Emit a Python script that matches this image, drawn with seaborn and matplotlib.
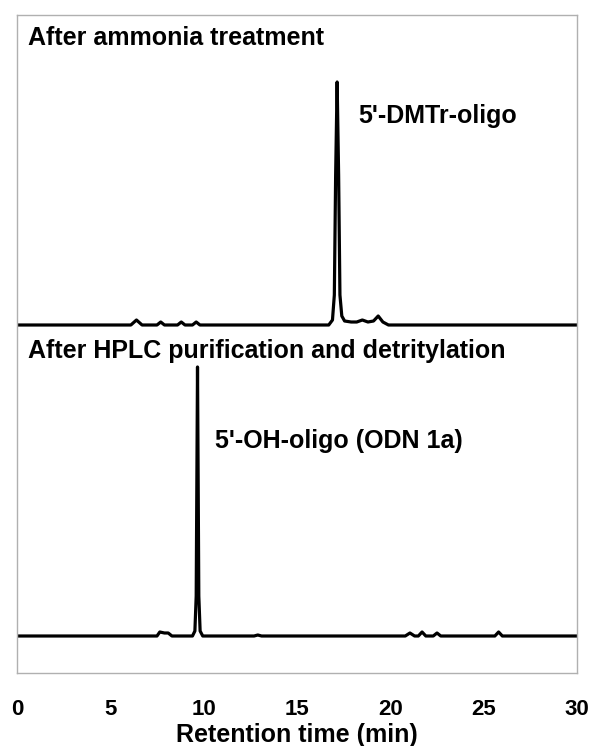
import numpy as np
import pandas as pd
import matplotlib
matplotlib.use("Agg")
import matplotlib.pyplot as plt
import seaborn as sns

# trace points (time in min, signal in arbitrary units)
time_ammonia = [0, 6.1, 6.4, 6.7, 7.5, 7.7, 7.9, 8.6, 8.8, 9.0, 9.4, 9.6, 9.8,
                16.7, 16.9, 17.0, 17.07, 17.15, 17.23, 17.3, 17.4, 17.55, 17.9,
                18.2, 18.5, 18.8, 19.1, 19.35, 19.6, 19.9, 30]
signal_ammonia = [0, 0, 5, 0, 0, 3, 0, 0, 3, 0, 0, 3, 0,
                  0, 5, 30, 150, 243, 150, 30, 9, 4, 3,
                  3, 5, 3, 4, 9, 3, 0, 0]

time_hplc = [0, 7.5, 7.65, 7.9, 8.1, 8.3, 9.4, 9.53, 9.6, 9.67, 9.74, 9.81, 9.95,
             12.7, 12.9, 13.1, 20.8, 21.05, 21.3, 21.5, 21.7, 21.9, 22.3, 22.5,
             22.7, 25.6, 25.8, 26.0, 30]
signal_hplc = [0, 0, 4, 3, 3, 0, 0, 5, 40, 269, 40, 5, 0,
               0, 1, 0, 0, 3, 0, 0, 4, 0, 0, 3,
               0, 0, 4, 0, 0]

panel_titles = ["After ammonia treatment", "After HPLC purification and detritylation"]
peak_labels = ["5'-DMTr-oligo", "5'-OH-oligo (ODN 1a)"]
x_ticks = [0, 5, 10, 15, 20, 25, 30]

# vertical offsets used to stack the two runs in one axes
OFFSET_TOP = 348
OFFSET_BOTTOM = 37

df = pd.concat([
    pd.DataFrame({"time": time_ammonia, "signal": np.array(signal_ammonia) + OFFSET_TOP, "run": "a"}),
    pd.DataFrame({"time": time_hplc, "signal": np.array(signal_hplc) + OFFSET_BOTTOM, "run": "b"}),
])

sns.set_theme(style="white")
plt.rcParams["font.family"] = ["Liberation Sans", "DejaVu Sans"]

fig = plt.figure(figsize=(5.92, 7.46), dpi=100)
ax = fig.add_axes([17 / 592, 73 / 746, 560 / 592, 658 / 746])

sns.lineplot(data=df, x="time", y="signal", units="run", estimator=None,
             color="black", linewidth=2.3, ax=ax, sort=False)

ax.set_xlim(0, 30)
ax.set_ylim(0, 658)
ax.set_xticks(x_ticks)
ax.set_xticklabels([str(t) for t in x_ticks], fontsize=16, fontweight="bold", color="black")
ax.tick_params(axis="x", direction="in", length=10, width=1, color="#a0a0a0", pad=19)
ax.set_yticks([])
ax.set_ylabel("")
ax.set_xlabel("Retention time (min)", fontsize=18, fontweight="bold", color="black", labelpad=2)
for s in ax.spines.values():
    s.set_color("#b0b0b0")
    s.set_linewidth(1)

txt = dict(fontsize=18, fontweight="bold", color="black", va="baseline")
ax.text(0.59, 628, panel_titles[0], **txt)
ax.text(0.59, 315, panel_titles[1], **txt)
ax.text(18.26, 550, peak_labels[0], **txt)
ax.text(10.6, 225, peak_labels[1], **txt)

fig.savefig("out.png", dpi=100)
